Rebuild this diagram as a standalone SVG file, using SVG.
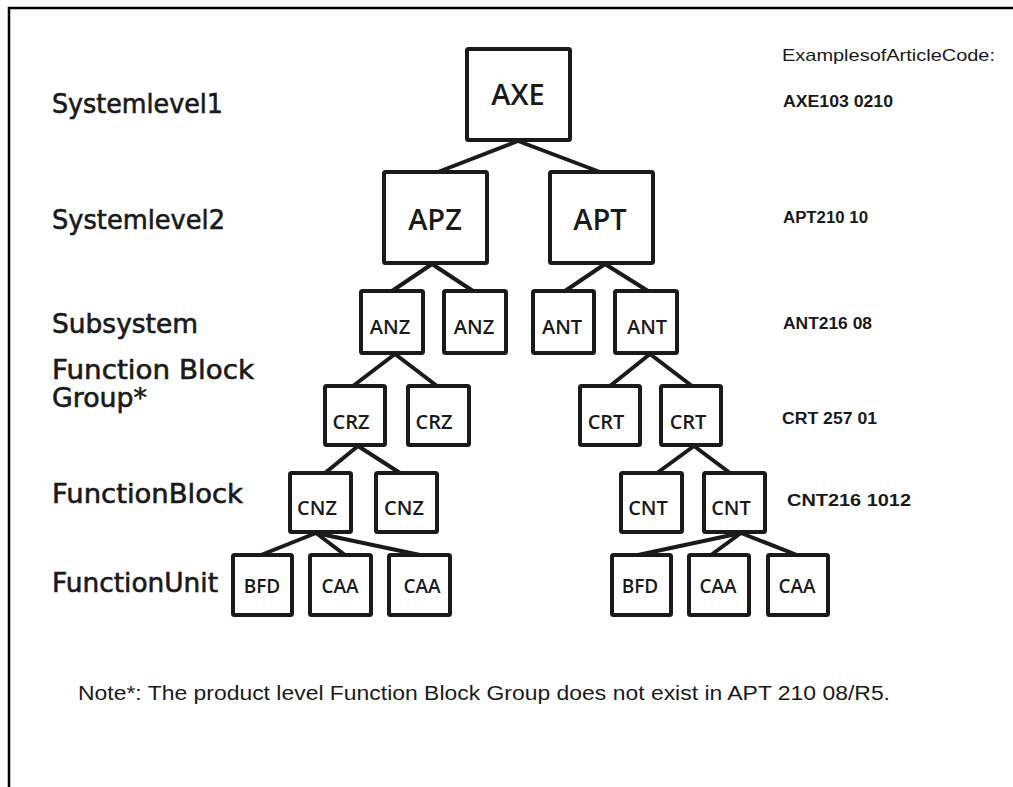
<svg xmlns="http://www.w3.org/2000/svg" width="1013" height="787" viewBox="0 0 1013 787">
<style>
.frame{fill:none;stroke:#000;stroke-width:2.5}
.box{fill:#fff;stroke:#1a1a1a;stroke-width:4;stroke-linejoin:round}
.edge{stroke:#1a1a1a;stroke-width:4;stroke-linecap:butt}
.big{font-family:"Open Sans","Noto Sans",sans-serif;font-weight:600;font-size:29px;fill:#1a1a1a;text-anchor:middle}
.mid{font-family:"Open Sans","Noto Sans",sans-serif;font-weight:600;font-size:20px;fill:#1a1a1a;text-anchor:middle}
.sm{font-family:"Open Sans","Noto Sans",sans-serif;font-weight:600;font-size:19px;fill:#1a1a1a;text-anchor:middle}
.lvl{font-family:"DejaVu Sans",sans-serif;font-size:26px;fill:#1a1a1a;stroke:#1a1a1a;stroke-width:0.6}
.code{font-family:"Liberation Sans",Arial,sans-serif;font-weight:bold;font-size:16px;fill:#1a1a1a}
.hdr{font-family:"Liberation Sans",Arial,sans-serif;font-size:17px;fill:#1a1a1a}
.note{font-family:"Liberation Sans",Arial,sans-serif;font-size:20px;fill:#1a1a1a}
</style>
<rect width="1013" height="787" fill="#fff"/>
<rect class="frame" x="9" y="8" width="1010" height="790"/>

<g id="connectors">
<line class="edge" x1="518" y1="141" x2="438" y2="172"/>
<line class="edge" x1="518" y1="141" x2="600" y2="172"/>
<line class="edge" x1="432" y1="264" x2="392" y2="291"/>
<line class="edge" x1="432" y1="264" x2="473" y2="291"/>
<line class="edge" x1="605" y1="264" x2="565" y2="291"/>
<line class="edge" x1="605" y1="264" x2="648" y2="291"/>
<line class="edge" x1="395" y1="354" x2="353" y2="386"/>
<line class="edge" x1="395" y1="354" x2="437" y2="386"/>
<line class="edge" x1="650" y1="354" x2="610" y2="386"/>
<line class="edge" x1="650" y1="354" x2="692" y2="386"/>
<line class="edge" x1="358" y1="446" x2="325" y2="473"/>
<line class="edge" x1="358" y1="446" x2="400" y2="473"/>
<line class="edge" x1="694" y1="446" x2="657" y2="473"/>
<line class="edge" x1="694" y1="446" x2="730" y2="473"/>
<line class="edge" x1="316" y1="533" x2="261" y2="555"/>
<line class="edge" x1="316" y1="533" x2="345" y2="555"/>
<line class="edge" x1="316" y1="533" x2="420" y2="555"/>
<line class="edge" x1="741" y1="533" x2="638" y2="555"/>
<line class="edge" x1="741" y1="533" x2="711" y2="555"/>
<line class="edge" x1="741" y1="533" x2="797" y2="555"/>
</g>

<g id="axe"><rect class="box" x="467" y="49" width="103" height="91" rx="1.5"/><text class="big" x="518" y="105">AXE</text></g>
<g id="apz"><rect class="box" x="384" y="172" width="103" height="91" rx="1.5"/><text class="big" x="435" y="230">APZ</text></g>
<g id="apt"><rect class="box" x="550" y="172" width="103" height="91" rx="1.5"/><text class="big" x="600" y="230">APT</text></g>

<g id="anz1"><rect class="box" x="361" y="291" width="62" height="62" rx="1.5"/><text class="mid" x="390" y="334">ANZ</text></g>
<g id="anz2"><rect class="box" x="444" y="291" width="62" height="62" rx="1.5"/><text class="mid" x="474" y="334">ANZ</text></g>
<g id="ant1"><rect class="box" x="533" y="291" width="61" height="62" rx="1.5"/><text class="mid" x="562" y="334">ANT</text></g>
<g id="ant2"><rect class="box" x="615" y="291" width="62" height="62" rx="1.5"/><text class="mid" x="647" y="334">ANT</text></g>

<g id="crz1"><rect class="box" x="325" y="386" width="60" height="59" rx="1.5"/><text class="mid" x="351" y="429">CRZ</text></g>
<g id="crz2"><rect class="box" x="408" y="386" width="61" height="59" rx="1.5"/><text class="mid" x="434" y="429">CRZ</text></g>
<g id="crt1"><rect class="box" x="580" y="386" width="60" height="59" rx="1.5"/><text class="mid" x="606" y="429">CRT</text></g>
<g id="crt2"><rect class="box" x="661" y="386" width="60" height="59" rx="1.5"/><text class="mid" x="688" y="429">CRT</text></g>

<g id="cnz1"><rect class="box" x="290" y="473" width="61" height="59" rx="1.5"/><text class="mid" x="317" y="515">CNZ</text></g>
<g id="cnz2"><rect class="box" x="376" y="473" width="61" height="59" rx="1.5"/><text class="mid" x="404" y="515">CNZ</text></g>
<g id="cnt1"><rect class="box" x="621" y="473" width="61" height="59" rx="1.5"/><text class="mid" x="648" y="515">CNT</text></g>
<g id="cnt2"><rect class="box" x="704" y="473" width="61" height="59" rx="1.5"/><text class="mid" x="731" y="515">CNT</text></g>

<g id="bfd1"><rect class="box" x="233" y="555" width="59" height="60" rx="1.5"/><text class="sm" x="262" y="593">BFD</text></g>
<g id="caa1"><rect class="box" x="310" y="555" width="61" height="60" rx="1.5"/><text class="sm" x="340" y="593">CAA</text></g>
<g id="caa2"><rect class="box" x="389" y="555" width="61" height="60" rx="1.5"/><text class="sm" x="422" y="593">CAA</text></g>
<g id="bfd2"><rect class="box" x="612" y="555" width="59" height="60" rx="1.5"/><text class="sm" x="640" y="593">BFD</text></g>
<g id="caa3"><rect class="box" x="689" y="555" width="60" height="60" rx="1.5"/><text class="sm" x="718" y="593">CAA</text></g>
<g id="caa4"><rect class="box" x="768" y="555" width="60" height="60" rx="1.5"/><text class="sm" x="797" y="593">CAA</text></g>

<g id="levels">
<text class="lvl" x="52" y="113" textLength="171" lengthAdjust="spacingAndGlyphs">Systemlevel1</text>
<text class="lvl" x="52" y="229" textLength="173" lengthAdjust="spacingAndGlyphs">Systemlevel2</text>
<text class="lvl" x="52" y="333" textLength="146" lengthAdjust="spacingAndGlyphs">Subsystem</text>
<text class="lvl" x="52" y="379" textLength="202" lengthAdjust="spacingAndGlyphs">Function Block</text>
<text class="lvl" x="52" y="407" textLength="95" lengthAdjust="spacingAndGlyphs">Group*</text>
<text class="lvl" x="52" y="503" textLength="191" lengthAdjust="spacingAndGlyphs">FunctionBlock</text>
<text class="lvl" x="52" y="592" textLength="166" lengthAdjust="spacingAndGlyphs">FunctionUnit</text>
</g>

<g id="codes">
<text class="hdr" x="782" y="61" textLength="213" lengthAdjust="spacingAndGlyphs">ExamplesofArticleCode:</text>
<text class="code" x="783" y="107" textLength="110" lengthAdjust="spacingAndGlyphs">AXE103 0210</text>
<text class="code" x="783" y="223" textLength="85" lengthAdjust="spacingAndGlyphs">APT210 10</text>
<text class="code" x="783" y="329" textLength="89" lengthAdjust="spacingAndGlyphs">ANT216 08</text>
<text class="code" x="782" y="424" textLength="95" lengthAdjust="spacingAndGlyphs">CRT 257 01</text>
<text class="code" x="787" y="506" textLength="124" lengthAdjust="spacingAndGlyphs">CNT216 1012</text>
</g>

<text class="note" x="78" y="700" textLength="812" lengthAdjust="spacingAndGlyphs">Note*: The product level Function Block Group does not exist in APT 210 08/R5.</text>
</svg>
